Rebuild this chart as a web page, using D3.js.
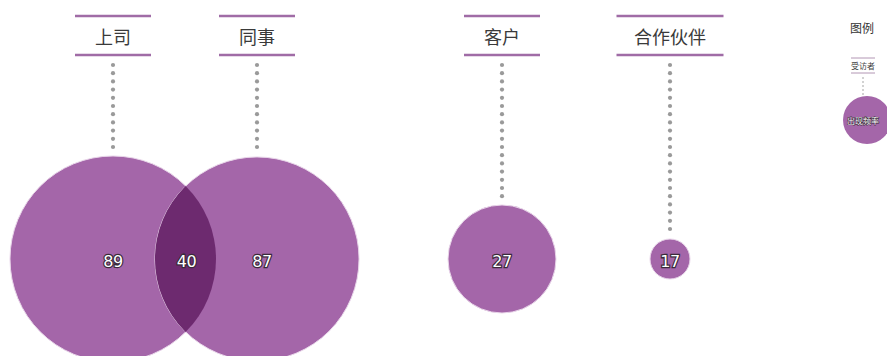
<!DOCTYPE html>
<html><head><meta charset="utf-8">
<script src="https://cdn.jsdelivr.net/npm/d3@7/dist/d3.min.js"></script>
<style>
html,body{margin:0;padding:0;background:#fff;}
svg{display:block;font-family:"Noto Sans CJK SC","Noto Sans",sans-serif;}
</style></head>
<body>
<svg id="chart" width="887" height="356"></svg>
<script>
// ---- data ----
const categories = ["上司", "同事", "客户", "合作伙伴"];
const values = [89, 87, 27, 17];          // exclusive counts
const overlapPair = ["上司", "同事"];       // categories that overlap
const overlapValue = [40];                 // shared count
const legendTitle = ["图例"];
const legendLabels = ["受访者", "出现频率"];

// totals per circle (exclusive + shared)
const totals = categories.map((c, i) => values[i] + (overlapPair.includes(c) ? overlapValue[0] : 0));

const svg = d3.select("#chart");
const purple = "#a466a9", dark = "#6d2a6f", lineCol = "#a06ca6", dotCol = "#9a9a9a";

// scales
const x = d3.scaleLinear().domain([0, 1, 2, 3]).range([113, 257, 502, 670]);
const r = d3.scaleLinear().domain([17, 27, 129]).range([20, 54, 103]);
const cy = 259;

const headerW = d3.scaleLinear().domain([2, 4]).range([76, 107]);
const yTop = 16, yBot = 55, yText = 36;

const nodes = categories.map((c, i) => ({ c, i, v: values[i], t: totals[i], x: x(i), r: r(totals[i]) }));

// dotted leader lines
nodes.forEach(n => {
  const top = cy - n.r;
  const ys = d3.range(65, top - 4, 8.2);
  svg.append("g").selectAll("circle").data(ys).join("circle")
    .attr("cx", n.x).attr("cy", d => d).attr("r", 2.1).attr("fill", dotCol);
});

// headers
const hdr = svg.append("g").selectAll("g").data(nodes).join("g");
hdr.each(function (n) {
  const g = d3.select(this);
  const w = headerW(n.c.length);
  [yTop, yBot].forEach(yy => g.append("line")
    .attr("x1", n.x - w / 2).attr("x2", n.x + w / 2).attr("y1", yy).attr("y2", yy)
    .attr("stroke", lineCol).attr("stroke-width", 2.6));
  g.append("text").attr("x", n.x).attr("y", yText).attr("text-anchor", "middle")
    .attr("dominant-baseline", "central").attr("font-size", 18).attr("fill", "#3a3a3a")
    .text(n.c);
});

// circles
const defs = svg.append("defs");
svg.append("g").selectAll("circle").data(nodes).join("circle")
  .attr("cx", d => d.x).attr("cy", cy).attr("r", d => d.r)
  .attr("fill", purple).attr("stroke", "#e9d6ea").attr("stroke-width", 1);

// overlap lens
const a = nodes.find(n => n.c === overlapPair[0]);
const b = nodes.find(n => n.c === overlapPair[1]);
defs.append("clipPath").attr("id", "clipA").append("circle")
  .attr("cx", a.x).attr("cy", cy).attr("r", a.r);
svg.append("circle").attr("cx", b.x).attr("cy", cy).attr("r", b.r)
  .attr("fill", dark).attr("clip-path", "url(#clipA)");

// value labels
function label(xx, yy, txt, size) {
  svg.append("text").attr("x", xx).attr("y", yy).attr("text-anchor", "middle")
    .attr("dominant-baseline", "central").attr("font-size", size)
    .attr("font-family", "'DejaVu Sans',sans-serif")
    .attr("fill", "#fff").attr("stroke", "#3a2a3a").attr("stroke-width", 2.4)
    .attr("paint-order", "stroke").attr("letter-spacing", -0.5).text(txt);
}
nodes.forEach(n => label(n.x + (n.c === overlapPair[1] ? 5 : 0), cy + 2, n.v, 16));
const lensLeft = b.x - b.r, lensRight = a.x + a.r;
label((lensLeft + lensRight) / 2 + 1, cy + 2, overlapValue[0], 16);

// legend
const lx = 865;
svg.append("text").attr("x", 862).attr("y", 27).attr("text-anchor", "middle")
  .attr("dominant-baseline", "central").attr("font-size", 12).attr("fill", "#333").text(legendTitle[0]);
[58, 73].forEach(yy => svg.append("line").attr("x1", 851).attr("x2", 875).attr("y1", yy).attr("y2", yy)
  .attr("stroke", "#a98aac").attr("stroke-width", 0.9));
svg.append("text").attr("x", 863).attr("y", 65.5).attr("text-anchor", "middle")
  .attr("dominant-baseline", "central").attr("font-size", 8).attr("fill", "#444").text(legendLabels[0]);
svg.append("g").selectAll("circle").data(d3.range(78, 96, 4)).join("circle")
  .attr("cx", 863).attr("cy", d => d).attr("r", 0.8).attr("fill", "#999");
svg.append("circle").attr("cx", lx + 2).attr("cy", 120).attr("r", 24).attr("fill", purple);
svg.append("text").attr("x", lx - 2).attr("y", 120).attr("text-anchor", "middle")
  .attr("dominant-baseline", "central").attr("font-size", 8).attr("fill", "#fff")
  .attr("stroke", "#3a2a3a").attr("stroke-width", 1).attr("paint-order", "stroke").text(legendLabels[1]);
</script>
</body></html>
